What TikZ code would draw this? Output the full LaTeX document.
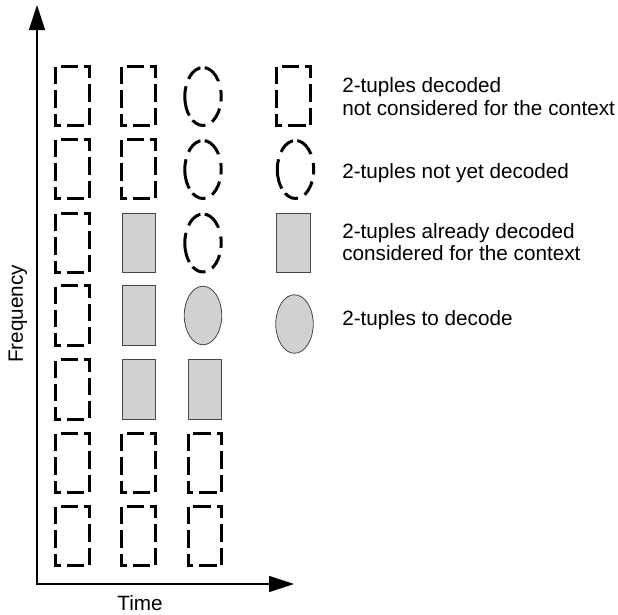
\documentclass[tikz,border=0pt]{standalone}
\usepackage{fontspec}
\setmainfont{Liberation Sans}
\usetikzlibrary{arrows.meta,shapes.geometric}
\definecolor{boxfill}{RGB}{208,209,211}
\definecolor{boxline}{RGB}{70,70,70}
\begin{document}
\begin{tikzpicture}[x=1pt,y=-1pt,
  lbl/.style={font=\fontsize{20.7}{22.3}\selectfont, inner sep=0pt, outer sep=0pt},
  dboxn/.style={rectangle, minimum width=33.7pt, minimum height=59.7pt, inner sep=0pt, outer sep=0pt},
  dashrect/.style={draw=black, line width=3pt, dash pattern=on 17.3pt off 6.05pt, dash phase=18.2pt},
  dell/.style={ellipse, draw=black, line width=3pt,
    dash pattern=on 12.5pt off 9.1pt on 20.2pt off 4.3pt on 16.7pt off 7.9pt on 30.1pt off 5.8pt on 14.4pt off 7.6pt on 15.2pt off 7.3pt,
    dash phase=6pt, minimum width=36.4pt, minimum height=58pt, inner sep=0pt, outer sep=0pt},
  fbox/.style={rectangle, draw=boxline, fill=boxfill, line width=0.8pt, minimum width=33.5pt, minimum height=59.5pt, inner sep=0pt, outer sep=0pt},
  fell/.style={ellipse, draw=boxline, fill=boxfill, line width=0.8pt, minimum width=37.5pt, minimum height=58.5pt, inner sep=0pt, outer sep=0pt},
  axisline/.style={line width=1.3pt, {Triangle[length=25pt,width=16pt]}-{Triangle[length=25pt,width=16pt]}}
]
\useasboundingbox (0,0) rectangle (618,614);
% axes
\coordinate (ytip) at (37,5);
\coordinate (O) at (37,584);
\coordinate (xtip) at (294,584);
\draw[axisline] (ytip) -- (O) -- (xtip);
\node[lbl, anchor=base] (time) at (140,610) {Time};
\node[lbl, anchor=base, rotate=90] (freq) at (23,314) {Frequency};
% column 1
\foreach \r/\y in {1/96,2/169,3/243,4/315.5,5/389.5,6/463,7/536}
  \node[dboxn] (c1r\r) at (72.7,\y) {};
% column 2
\node[dboxn] (c2r1) at (138.7,96) {};
\node[dboxn] (c2r2) at (138.7,169) {};
\node[fbox] (c2r3) at (138.7,243) {};
\node[fbox] (c2r4) at (138.7,315.5) {};
\node[fbox] (c2r5) at (138.7,389.5) {};
\node[dboxn] (c2r6) at (138.7,463) {};
\node[dboxn] (c2r7) at (138.7,536) {};
% column 3
\node[dell] (c3r1) at (203,96.5) {};
\node[dell] (c3r2) at (203,169.5) {};
\node[dell] (c3r3) at (203,243) {};
\node[fell] (c3r4) at (203,315.5) {};
\node[fbox] (c3r5) at (205,389.5) {};
\node[dboxn] (c3r6) at (205,463) {};
\node[dboxn] (c3r7) at (205,536) {};
% legend
\node[dboxn] (lg1) at (293.8,96) {};
\node[dell] (lg2) at (295.5,169.5) {};
\node[fbox] (lg3) at (293.3,243) {};
\node[fell] (lg4) at (294.5,324) {};
% dashed outlines of the decoded boxes
\foreach \n in {c1r1,c1r2,c1r3,c1r4,c1r5,c1r6,c1r7,c2r1,c2r2,c2r6,c2r7,c3r6,c3r7,lg1}
  \draw[dashrect] (\n.north west) -- (\n.north east) -- (\n.south east) -- (\n.south west) -- cycle;
% legend texts
\node[lbl, anchor=base west] (t1a) at (342.3,92.7) {2-tuples decoded};
\node[lbl, anchor=base west] (t1b) at (342.3,115) {not considered for the context};
\node[lbl, anchor=base west] (t2) at (342.3,178.3) {2-tuples not yet decoded};
\node[lbl, anchor=base west] (t3a) at (342.3,238.3) {2-tuples already decoded};
\node[lbl, anchor=base west] (t3b) at (342.3,260) {considered for the context};
\node[lbl, anchor=base west] (t4) at (342.3,325) {2-tuples to decode};
\end{tikzpicture}
\end{document}
